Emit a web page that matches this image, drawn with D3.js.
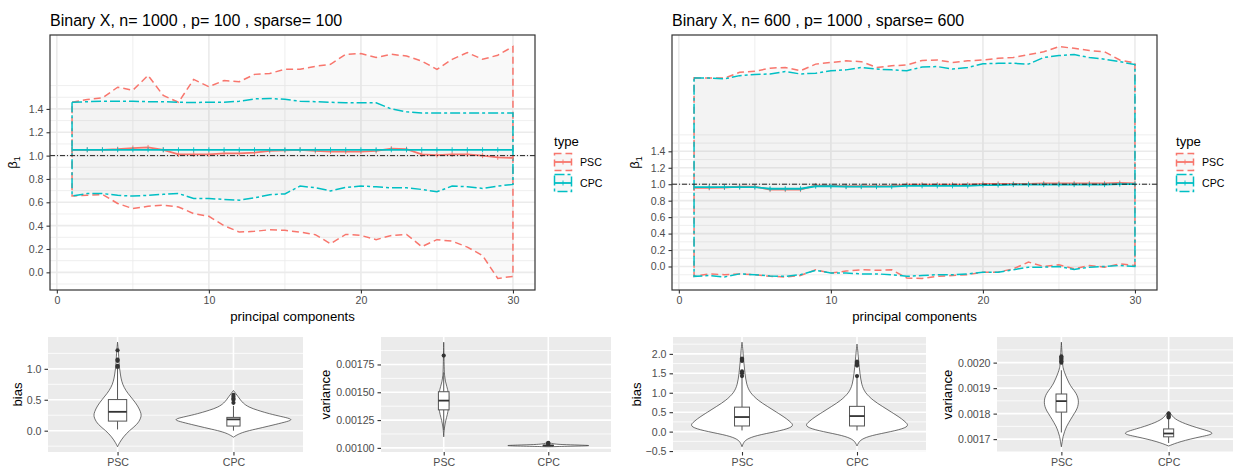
<!DOCTYPE html>
<html><head><meta charset="utf-8">
<script src="https://cdn.jsdelivr.net/npm/d3@7"></script>
<style>
body{margin:0;background:#fff}
svg{display:block}
text{font-family:"Liberation Sans",Arial,sans-serif}
</style>
</head><body>
<svg id="c" width="1235" height="475"></svg>
<script>
// ---------------- DATA ----------------
const components = [1,2,3,4,5,6,7,8,9,10,11,12,13,14,15,16,17,18,19,20,21,22,23,24,25,26,27,28,29,30];
const types = ["PSC","CPC"];
const xBreaks = [0,10,20,30];
const yBreaksTop = [0,0.2,0.4,0.6,0.8,1.0,1.2,1.4];
const refLine = 1.0;

// Left: n=1000, p=100, sparse=100
const pscUpperL = [1.457,1.48,1.495,1.586,1.56,1.687,1.515,1.457,1.653,1.59,1.644,1.633,1.696,1.704,1.739,1.739,1.765,1.782,1.868,1.874,1.84,1.868,1.853,1.81,1.739,1.825,1.883,1.825,1.86,1.934];
const pscMidL   = [1.05,1.05,1.05,1.055,1.065,1.07,1.05,1.01,1.01,1.01,1.02,1.02,1.025,1.04,1.045,1.05,1.04,1.035,1.035,1.035,1.04,1.06,1.055,1.01,1.005,1.01,1.01,1.0,0.985,0.98];
const pscLowerL = [0.655,0.66,0.667,0.59,0.546,0.566,0.575,0.56,0.503,0.48,0.40,0.345,0.351,0.365,0.36,0.345,0.323,0.245,0.325,0.316,0.28,0.316,0.325,0.22,0.28,0.267,0.216,0.144,-0.052,-0.035];
const cpcUpperL = [1.457,1.462,1.466,1.466,1.466,1.462,1.462,1.457,1.455,1.457,1.457,1.466,1.486,1.49,1.482,1.466,1.462,1.457,1.452,1.452,1.452,1.40,1.375,1.366,1.366,1.366,1.366,1.366,1.366,1.366];
const cpcMidL   = [1.05,1.05,1.05,1.05,1.05,1.05,1.05,1.05,1.05,1.05,1.05,1.05,1.05,1.05,1.05,1.05,1.05,1.05,1.05,1.05,1.05,1.05,1.05,1.05,1.05,1.05,1.05,1.05,1.05,1.05];
const cpcLowerL = [0.655,0.675,0.675,0.66,0.653,0.66,0.668,0.675,0.633,0.633,0.624,0.618,0.638,0.665,0.672,0.739,0.725,0.698,0.727,0.739,0.733,0.724,0.724,0.71,0.69,0.739,0.733,0.719,0.739,0.753];

// Right: n=600, p=1000, sparse=600
const pscUpperR = [2.293,2.29,2.29,2.36,2.373,2.41,2.42,2.38,2.46,2.48,2.50,2.49,2.42,2.44,2.45,2.505,2.51,2.48,2.50,2.51,2.53,2.54,2.576,2.61,2.673,2.652,2.625,2.61,2.51,2.475];
const pscMidR   = [0.955,0.955,0.96,0.97,0.97,0.935,0.935,0.935,0.985,0.98,0.975,0.975,0.975,0.98,0.995,0.995,0.995,0.995,0.995,1.005,1.005,1.005,1.005,1.01,1.01,1.01,1.01,1.01,1.015,1.01];
const pscLowerR = [-0.12,-0.09,-0.1,-0.09,-0.1,-0.12,-0.127,-0.11,-0.04,-0.08,-0.056,-0.04,-0.047,-0.04,-0.14,-0.145,-0.12,-0.11,-0.1,-0.069,-0.069,-0.028,0.053,0.0,0.02,-0.028,0.012,-0.008,0.032,0.012];
const cpcUpperR = [2.29,2.29,2.28,2.32,2.335,2.34,2.37,2.34,2.35,2.38,2.39,2.42,2.40,2.39,2.38,2.425,2.43,2.40,2.42,2.463,2.47,2.47,2.46,2.54,2.564,2.576,2.54,2.52,2.49,2.454];
const cpcMidR   = [0.965,0.965,0.965,0.965,0.965,0.945,0.945,0.945,0.975,0.975,0.97,0.97,0.97,0.97,0.98,0.98,0.98,0.98,0.98,0.99,0.99,0.995,0.995,0.995,0.995,0.995,0.995,0.995,1.0,1.0];
const cpcLowerR = [-0.12,-0.11,-0.127,-0.09,-0.1,-0.115,-0.12,-0.1,-0.047,-0.08,-0.08,-0.09,-0.09,-0.1,-0.12,-0.11,-0.1,-0.1,-0.09,-0.07,-0.07,-0.04,-0.008,-0.008,0,-0.036,-0.008,0,0.012,0];

// Violin profiles: [value, half-width in category units]
const biasPscL = [[-0.26,0],[-0.2,0.015],[-0.1,0.05],[0,0.1],[0.1,0.17],[0.2,0.2],[0.25,0.205],[0.3,0.2],[0.4,0.175],[0.5,0.135],[0.6,0.09],[0.7,0.055],[0.8,0.035],[0.9,0.025],[1.0,0.018],[1.1,0.012],[1.2,0.01],[1.3,0.007],[1.43,0]];
const biasCpcL = [[-0.105,0],[-0.08,0.02],[-0.04,0.06],[0,0.13],[0.05,0.25],[0.1,0.36],[0.15,0.47],[0.18,0.51],[0.21,0.46],[0.25,0.36],[0.3,0.26],[0.33,0.21],[0.38,0.13],[0.45,0.08],[0.5,0.06],[0.55,0.04],[0.6,0.02],[0.65,0]];
const varPscL  = [[0.00110,0],[0.00118,0.005],[0.00125,0.02],[0.0013,0.035],[0.00135,0.045],[0.00142,0.05],[0.0015,0.045],[0.00155,0.03],[0.0016,0.015],[0.00165,0.008],[0.0017,0.005],[0.0018,0.003],[0.00195,0]];
const varCpcL  = [[0.00101,0],[0.001015,0.2],[0.00102,0.45],[0.001025,0.3],[0.00103,0.12],[0.001035,0.06],[0.00104,0.03],[0.00105,0]];
const biasPscR = [[-0.39,0],[-0.3,0.01],[-0.2,0.035],[-0.1,0.12],[0,0.3],[0.1,0.43],[0.18,0.445],[0.25,0.42],[0.35,0.38],[0.5,0.3],[0.65,0.22],[0.8,0.14],[1.0,0.07],[1.2,0.04],[1.5,0.025],[1.8,0.015],[2.1,0.008],[2.3,0]];
const biasCpcR = [[-0.37,0],[-0.3,0.01],[-0.2,0.035],[-0.1,0.12],[0,0.3],[0.1,0.43],[0.18,0.445],[0.25,0.42],[0.35,0.38],[0.5,0.3],[0.65,0.22],[0.8,0.14],[1.0,0.07],[1.2,0.04],[1.5,0.025],[1.8,0.015],[2.05,0.008],[2.25,0]];
const varPscR  = [[0.00167,0],[0.00169,0.008],[0.00171,0.015],[0.00173,0.03],[0.00175,0.048],[0.00178,0.09],[0.0018,0.12],[0.00182,0.15],[0.00185,0.165],[0.00188,0.14],[0.0019,0.1],[0.00192,0.07],[0.00194,0.05],[0.00196,0.03],[0.00198,0.015],[0.002,0.01],[0.00204,0.006],[0.00208,0]];
const varCpcR  = [[0.001673,0],[0.00169,0.1],[0.00171,0.3],[0.001722,0.455],[0.00174,0.3],[0.00176,0.15],[0.00178,0.05],[0.0018,0.02],[0.00181,0]];

// Box stats: [lowerWhisker, q1, median, q3, upperWhisker]
const boxBiasPscL = [0.02,0.155,0.305,0.503,1.0];
const boxBiasCpcL = [0.0,0.075,0.183,0.215,0.40];
const boxVarPscL  = [0.00116,0.001342,0.001425,0.001505,0.00168];
const boxVarCpcL  = [0.001016,0.00102,0.001021,0.001024,0.00103];
const boxBiasPscR = [0.03,0.145,0.375,0.63,1.40];
const boxBiasCpcR = [0.03,0.145,0.40,0.65,1.40];
const boxVarPscR  = [0.001726,0.001806,0.001849,0.001877,0.00197];
const boxVarCpcR  = [0.001685,0.001709,0.001722,0.00174,0.00178];

const outBiasPscL = [1.03,1.05,1.13,1.15,1.3];
const outBiasCpcL = [0.45,0.5,0.52,0.55,0.58];
const outVarPscL  = [0.00183];
const outVarCpcL  = [0.001035,0.00104,0.001045];
const outBiasPscR = [1.43,1.5,1.55,1.82,1.85,1.88];
const outBiasCpcR = [1.43,1.7,1.74,1.77,1.8];
const outVarPscR  = [0.002,0.002005,0.00201,0.002015,0.00202,0.002025];
const outVarCpcR  = [0.001785,0.00179,0.001795,0.0018];

// ---------------- DRAWING ----------------
const svg = d3.select("#c");
const RED = "#F8766D", CYAN = "#00BFC4";
const TICKCOL = "#4D4D4D", DARK = "#333333";

function extentPad(arrs) {
  const e = d3.extent(arrs.flat());
  const p = (e[1]-e[0])*0.05;
  return [e[0]-p, e[1]+p];
}

function topPanel(cfg) {
  const g = svg.append("g");
  const x = d3.scaleLinear().domain([-0.45,31.45]).range([cfg.x0,cfg.x1]);
  const y = d3.scaleLinear().domain(extentPad([cfg.psc[0],cfg.psc[2],cfg.cpc[0],cfg.cpc[2]])).range([cfg.y1,cfg.y0]);
  const [ylo,yhi] = y.domain();
  g.append("rect").attr("x",cfg.x0).attr("y",cfg.y0).attr("width",cfg.x1-cfg.x0).attr("height",cfg.y1-cfg.y0).attr("fill","#fff");
  const xMinor = [-5,5,15,25,35].filter(v=>v>=-0.45&&v<=31.45);
  const yMinor = d3.range(-2,17).map(i=>i/10).filter(v=>!yBreaksTop.some(b=>Math.abs(b-v)<1e-9)).filter(v=>v>=ylo&&v<=yhi);
  g.selectAll(null).data(xMinor).join("line").attr("x1",d=>x(d)).attr("x2",d=>x(d)).attr("y1",cfg.y0).attr("y2",cfg.y1).attr("stroke","#EBEBEB").attr("stroke-width",0.8);
  g.selectAll(null).data(yMinor).join("line").attr("y1",d=>y(d)).attr("y2",d=>y(d)).attr("x1",cfg.x0).attr("x2",cfg.x1).attr("stroke","#EBEBEB").attr("stroke-width",0.8);
  g.selectAll(null).data(xBreaks).join("line").attr("x1",d=>x(d)).attr("x2",d=>x(d)).attr("y1",cfg.y0).attr("y2",cfg.y1).attr("stroke","#EBEBEB").attr("stroke-width",1.6);
  g.selectAll(null).data(yBreaksTop).join("line").attr("y1",d=>y(d)).attr("y2",d=>y(d)).attr("x1",cfg.x0).attr("x2",cfg.x1).attr("stroke","#EBEBEB").attr("stroke-width",1.6);

  const series = [
    {name:"PSC", col:RED, up:cfg.psc[0], mid:cfg.psc[1], lo:cfg.psc[2], dash:"7,4"},
    {name:"CPC", col:CYAN, up:cfg.cpc[0], mid:cfg.cpc[1], lo:cfg.cpc[2], dash:"10,3,3,3"}
  ];
  const area = d3.area().x((d,i)=>x(components[i])).y0(d=>y(d[0])).y1(d=>y(d[1]));
  series.forEach(s=>{
    const pts = components.map((c,i)=>[s.lo[i],s.up[i]]);
    g.append("path").attr("d",area(pts)+"Z").attr("fill","#9a9a9a").attr("fill-opacity",0.06).attr("stroke","none");
  });
  series.forEach(s=>{
    const pts = components.map((c,i)=>[s.lo[i],s.up[i]]);
    g.append("path").attr("d",area(pts)+"Z").attr("fill","none").attr("stroke",s.col).attr("stroke-width",1.5).attr("stroke-dasharray",s.dash);
  });
  const line = d3.line().x((d,i)=>x(components[i])).y(d=>y(d));
  series.forEach(s=>{
    g.append("path").attr("d",line(s.mid)).attr("fill","none").attr("stroke",s.col).attr("stroke-width",1.8);
    g.selectAll(null).data(s.mid).join("path")
      .attr("d",(d,i)=>`M${x(components[i])},${y(d)-2.5}v5`)
      .attr("stroke",s.col).attr("stroke-width",0.9);
  });
  g.append("line").attr("x1",cfg.x0).attr("x2",cfg.x1).attr("y1",y(refLine)).attr("y2",y(refLine))
    .attr("stroke","#222").attr("stroke-width",1).attr("stroke-dasharray","5,2,1,2");
  g.append("rect").attr("x",cfg.x0).attr("y",cfg.y0).attr("width",cfg.x1-cfg.x0).attr("height",cfg.y1-cfg.y0).attr("fill","none").attr("stroke",DARK).attr("stroke-width",1.2);
  const ax = g.append("g").attr("transform",`translate(0,${cfg.y1})`).call(d3.axisBottom(x).tickValues(xBreaks).tickSize(3.5).tickPadding(3).tickFormat(d3.format("d")));
  const ay = g.append("g").attr("transform",`translate(${cfg.x0},0)`).call(d3.axisLeft(y).tickValues(yBreaksTop).tickSize(3.5).tickPadding(3).tickFormat(d3.format(".1f")));
  [ax,ay].forEach(a=>{
    a.select(".domain").remove();
    a.selectAll(".tick line").attr("stroke",DARK).attr("stroke-width",1.1);
    a.selectAll(".tick text").attr("fill",TICKCOL).style("font-size","10.6px").style("font-family","Liberation Sans, Arial, sans-serif");
  });
  g.append("text").attr("x",cfg.x0).attr("y",26).text(cfg.title).style("font-size","16px").attr("fill","#000");
  g.append("text").attr("x",(cfg.x0+cfg.x1)/2).attr("y",321).attr("text-anchor","middle").text("principal components").style("font-size","13.2px");
  const yl = g.append("text").attr("transform",`translate(${cfg.x0-33},${(cfg.y0+cfg.y1)/2}) rotate(-90)`).attr("text-anchor","middle").style("font-size","13.2px");
  yl.append("tspan").text("β");
  yl.append("tspan").text("1").attr("dy",3).style("font-size","9px");
  const lx = cfg.x1+19;
  g.append("text").attr("x",lx).attr("y",146).text("type").style("font-size","13.2px");
  series.forEach((s,i)=>{
    const ky = 153 + i*21;
    g.append("rect").attr("x",lx+0.5).attr("y",ky+0.5).attr("width",17).attr("height",17).attr("fill","#f6f6f6")
      .attr("stroke",s.col).attr("stroke-width",1.5).attr("stroke-dasharray",s.dash);
    g.append("line").attr("x1",lx+0.5).attr("x2",lx+17.5).attr("y1",ky+9).attr("y2",ky+9).attr("stroke",s.col).attr("stroke-width",1.8);
    g.append("path").attr("d",`M${lx+9},${ky+6.5}v5`).attr("stroke",s.col).attr("stroke-width",0.9);
    g.append("text").attr("x",lx+26).attr("y",ky+9).attr("dy","0.36em").text(s.name).style("font-size","10.6px");
  });
}

topPanel({x0:50,x1:535,y0:35,y1:290,title:"Binary X, n= 1000 , p= 100 , sparse= 100",
  psc:[pscUpperL,pscMidL,pscLowerL], cpc:[cpcUpperL,cpcMidL,cpcLowerL]});
topPanel({x0:672,x1:1157,y0:35,y1:290,title:"Binary X, n= 600 , p= 1000 , sparse= 600",
  psc:[pscUpperR,pscMidR,pscLowerR], cpc:[cpcUpperR,cpcMidR,cpcLowerR]});

function violinPanel(cfg) {
  const g = svg.append("g");
  const x = d3.scaleLinear().domain([0.4,2.6]).range([cfg.x0,cfg.x1]);
  const allVals = cfg.violins.flatMap(v=>v.prof.map(p=>p[0]).concat(v.out));
  const y = d3.scaleLinear().domain(extentPad([allVals])).range([cfg.y1,cfg.y0]);
  const [lo,hi] = y.domain();
  g.append("rect").attr("x",cfg.x0).attr("y",cfg.y0).attr("width",cfg.x1-cfg.x0).attr("height",cfg.y1-cfg.y0).attr("fill","#EBEBEB");
  const step = cfg.breaks[1]-cfg.breaks[0];
  const ext = [cfg.breaks[0]-step].concat(cfg.breaks,[cfg.breaks[cfg.breaks.length-1]+step]);
  const minors = [];
  for (let i=0;i<ext.length-1;i++) minors.push((ext[i]+ext[i+1])/2);
  g.selectAll(null).data(minors.filter(v=>v>=lo&&v<=hi)).join("line").attr("x1",cfg.x0).attr("x2",cfg.x1).attr("y1",d=>y(d)).attr("y2",d=>y(d)).attr("stroke","#fff").attr("stroke-width",0.8);
  g.selectAll(null).data(cfg.breaks.filter(v=>v>=lo&&v<=hi)).join("line").attr("x1",cfg.x0).attr("x2",cfg.x1).attr("y1",d=>y(d)).attr("y2",d=>y(d)).attr("stroke","#fff").attr("stroke-width",1.6);
  g.selectAll(null).data([1,2]).join("line").attr("x1",d=>x(d)).attr("x2",d=>x(d)).attr("y1",cfg.y0).attr("y2",cfg.y1).attr("stroke","#fff").attr("stroke-width",1.6);
  const pxu = x(1)-x(0);
  cfg.violins.forEach((v,k)=>{
    const cx = x(k+1);
    const area = d3.area().curve(d3.curveBasis).y(d=>y(d[0])).x0(d=>cx-d[1]*pxu).x1(d=>cx+d[1]*pxu);
    g.append("path").attr("d",area(v.prof)).attr("fill","#fff").attr("stroke",DARK).attr("stroke-width",0.7);
    const b = v.box, hw = v.bw*pxu;
    g.append("line").attr("x1",cx).attr("x2",cx).attr("y1",y(b[3])).attr("y2",y(b[4])).attr("stroke","#555").attr("stroke-width",1);
    g.append("line").attr("x1",cx).attr("x2",cx).attr("y1",y(b[1])).attr("y2",y(b[0])).attr("stroke","#555").attr("stroke-width",1);
    g.append("rect").attr("x",cx-hw).attr("y",y(b[3])).attr("width",2*hw).attr("height",Math.max(0.5,y(b[1])-y(b[3]))).attr("fill","#fff").attr("stroke","#555").attr("stroke-width",1);
    g.append("line").attr("x1",cx-hw).attr("x2",cx+hw).attr("y1",y(b[2])).attr("y2",y(b[2])).attr("stroke","#333").attr("stroke-width",1.8);
    g.selectAll(null).data(v.out).join("circle").attr("cx",cx).attr("cy",d=>y(d)).attr("r",2.1).attr("fill","#333");
  });
  const ax = g.append("g").attr("transform",`translate(0,${cfg.y1})`).call(d3.axisBottom(x).tickValues([1,2]).tickSize(3.5).tickPadding(3).tickFormat((d,i)=>types[i]));
  const ay = g.append("g").attr("transform",`translate(${cfg.x0},0)`).call(d3.axisLeft(y).tickValues(cfg.breaks).tickSize(3.5).tickPadding(3).tickFormat(d3.format(cfg.fmt)));
  [ax,ay].forEach(a=>{
    a.select(".domain").remove();
    a.selectAll(".tick line").attr("stroke",DARK).attr("stroke-width",1.1);
    a.selectAll(".tick text").attr("fill",TICKCOL).style("font-size","10.6px").style("font-family","Liberation Sans, Arial, sans-serif");
  });
  g.append("text").attr("transform",`translate(${cfg.lx},${(cfg.y0+cfg.y1)/2}) rotate(-90)`).attr("text-anchor","middle").attr("dy","0.36em").text(cfg.label).style("font-size","13.2px");
}

violinPanel({x0:48,x1:303,y0:337,y1:452,breaks:[0,0.5,1.0],fmt:".1f",label:"bias",lx:17,
  violins:[{prof:biasPscL,box:boxBiasPscL,out:outBiasPscL,bw:0.079},{prof:biasCpcL,box:boxBiasCpcL,out:outBiasCpcL,bw:0.057}]});
violinPanel({x0:381,x1:611,y0:337,y1:452,breaks:[0.001,0.00125,0.0015,0.00175],fmt:".5f",label:"variance",lx:325,
  violins:[{prof:varPscL,box:boxVarPscL,out:outVarPscL,bw:0.051},{prof:varCpcL,box:boxVarCpcL,out:outVarCpcL,bw:0.05}]});
violinPanel({x0:673,x1:926,y0:337,y1:452,breaks:[-0.5,0,0.5,1.0,1.5,2.0],fmt:".1f",label:"bias",lx:636,
  violins:[{prof:biasPscR,box:boxBiasPscR,out:outBiasPscR,bw:0.065},{prof:biasCpcR,box:boxBiasCpcR,out:outBiasCpcR,bw:0.065}]});
violinPanel({x0:997,x1:1233,y0:337,y1:452,breaks:[0.0017,0.0018,0.0019,0.0020],fmt:".4f",label:"variance",lx:947,
  violins:[{prof:varPscR,box:boxVarPscR,out:outVarPscR,bw:0.05},{prof:varCpcR,box:boxVarCpcR,out:outVarCpcR,bw:0.047}]});
</script>
</body></html>
